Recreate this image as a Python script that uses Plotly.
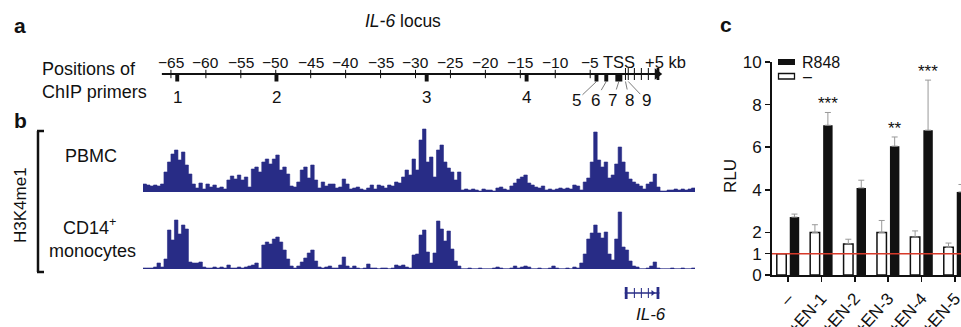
import plotly.graph_objects as go

W, H = 961, 327
FONT = "Liberation Sans, Arial, Helvetica, sans-serif"
NAVY = "#282c86"


def px(x):
    return x / W


def py(y):
    return 1 - y / H


# ---------------- panel a data (kb relative to IL-6 TSS) ----------------
ruler_ticks_kb = [-65, -60, -55, -50, -45, -40, -35, -30, -25, -20, -15, -10, -5]
ruler_tick_labels = ["\u221265", "\u221260", "\u221255", "\u221250", "\u221245", "\u221240",
                     "\u221235", "\u221230", "\u221225", "\u221220", "\u221215", "\u221210", "\u22125"]
ruler_start_kb = -66.3
ruler_end_kb = 4.6
primer_ids = ["1", "2", "3", "4", "5", "6", "7", "8", "9"]
primer_kb = [-64.1, -49.9, -28.4, -14.1, -4.1, -2.7, -0.9, 0.05, 0.45]
il6_exons_kb = [(-0.05, 0.35), (1.25, 1.4), (2.25, 2.4), (3.25, 3.4), (4.5, 4.9)]

# ---------------- panel b data: H3K4me1 signal, 0.5-kb bins from -69 kb ----------------
track_start_kb = -69.0
track_bin_kb = 0.5
pbmc_signal = [8, 7, 6, 7, 6, 8, 20, 30, 38, 42,
               32, 40, 27, 18, 8, 4, 9, 3, 8, 5,
               7, 4, 5, 3, 12, 16, 13, 17, 12, 15,
               5, 23, 25, 20, 30, 33, 28, 33, 37, 22,
               25, 18, 6, 5, 10, 22, 25, 14, 27, 12,
               4, 10, 6, 8, 8, 4, 5, 13, 8, 3,
               4, 5, 3, 2, 4, 7, 3, 7, 6, 4,
               7, 6, 10, 9, 15, 22, 17, 33, 22, 52,
               63, 30, 35, 15, 42, 47, 30, 24, 20, 12,
               20, 2, 3, 2, 3, 2, 1, 3, 2, 2,
               1, 4, 5, 3, 2, 6, 9, 13, 15, 17,
               9, 7, 5, 4, 6, 2, 3, 2, 3, 4,
               3, 4, 3, 7, 6, 2, 10, 14, 30, 60,
               32, 25, 30, 14, 17, 28, 45, 30, 20, 13,
               10, 8, 6, 3, 8, 10, 18, 5, 1, 1,
               2, 2, 3, 2, 3, 2, 3, 4]
cd14_signal = [1, 1, 1, 2, 6, 2, 10, 39, 29, 49,
               35, 44, 40, 7, 6, 6, 7, 2, 1, 1,
               2, 1, 2, 1, 4, 1, 1, 2, 1, 2,
               3, 4, 6, 1, 24, 27, 25, 30, 32, 27,
               19, 10, 3, 1, 3, 7, 11, 16, 19, 8,
               2, 1, 2, 3, 1, 1, 4, 12, 3, 1,
               3, 1, 0, 1, 5, 1, 1, 0, 1, 1,
               0, 1, 4, 3, 4, 2, 1, 14, 15, 34,
               39, 17, 6, 16, 48, 40, 28, 38, 20, 8,
               3, 0, 0, 1, 0, 0, 1, 0, 0, 0,
               1, 2, 1, 0, 0, 1, 3, 1, 2, 3,
               2, 0, 0, 1, 0, 0, 1, 3, 1, 0,
               0, 1, 0, 2, 1, 6, 15, 30, 36, 44,
               36, 31, 37, 15, 9, 30, 57, 22, 19, 8,
               3, 2, 0, 0, 1, 3, 7, 1, 0, 0,
               0, 1, 0, 0, 1, 0, 0, 1]

# ---------------- panel c data ----------------
categories = ["\u2013", "+EN-1", "+EN-2", "+EN-3", "+EN-4", "+EN-5"]
rlu_ctrl = [1.0, 2.0, 1.46, 2.0, 1.78, 1.3]
rlu_ctrl_err = [0.0, 0.36, 0.22, 0.56, 0.29, 0.2]
rlu_r848 = [2.72, 7.03, 4.09, 6.05, 6.8, 3.9]
rlu_r848_err = [0.14, 0.6, 0.36, 0.43, 2.35, 0.35]
significance = ["", "***", "", "**", "***", ""]
rlu_ticks = [0, 1, 2, 4, 6, 8, 10]
rlu_baseline = 1

fig = go.Figure()
shapes = []
ann = []


def text(x, y, s, size=18, xref="paper", yref="paper", **kw):
    d = dict(x=x, y=y, xref=xref, yref=yref, text=s, showarrow=False,
             xanchor="center", yanchor="middle",
             font=dict(family=FONT, size=size, color="#111"))
    d.update(kw)
    ann.append(d)


# ---- panel a ----
fig.add_trace(go.Scatter(x=[ruler_start_kb, ruler_end_kb], y=[0, 0], mode="lines",
                         line=dict(color="#111", width=2), xaxis="x", yaxis="y", hoverinfo="skip"))
fig.add_trace(go.Scatter(x=ruler_ticks_kb, y=[0] * len(ruler_ticks_kb), mode="markers",
                         marker=dict(symbol="line-ns", size=6, line=dict(color="#111", width=1)),
                         xaxis="x", yaxis="y", hoverinfo="skip"))
fig.add_trace(go.Scatter(x=[ruler_end_kb], y=[0], mode="markers",
                         marker=dict(symbol="triangle-right", size=10, color="#111"),
                         xaxis="x", yaxis="y", hoverinfo="skip"))
for a0, a1 in il6_exons_kb[1:]:
    shapes.append(dict(type="rect", xref="x", yref="y", x0=a0, x1=a1, y0=-6, y1=6,
                       fillcolor="#111", line=dict(width=0)))
for kb, lab in zip(ruler_ticks_kb, ruler_tick_labels):
    text(kb, 12, lab, size=15.5, xref="x", yref="y")
text(0, 12, "TSS", size=16.5, xref="x", yref="y", xshift=-6)
text(5, 12, "+5 kb", size=16.5, xref="x", yref="y", xshift=5)

label_dx = [0, 0, 0, 0, -20, -11, -6, 4, 18]
for i, (kb, pid) in enumerate(zip(primer_kb, primer_ids)):
    if i < 6:
        shapes.append(dict(type="rect", xref="x", yref="y", x0=kb - 0.28, x1=kb + 0.28,
                           y0=0, y1=-7.5, fillcolor="#111", line=dict(width=0)))
    elif i == 6:
        shapes.append(dict(type="rect", xref="x", yref="y", x0=kb - 0.5, x1=kb + 0.5,
                           y0=0, y1=-7.5, fillcolor="#111", line=dict(width=0)))
    else:
        shapes.append(dict(type="line", xref="x", yref="y", x0=kb, x1=kb,
                           y0=6, y1=-6, line=dict(color="#111", width=1)))
    if i < 4:
        text(kb, -23, pid, size=17, xref="x", yref="y")
    else:
        ann.append(dict(x=kb, y=-7.5, xref="x", yref="y", text=pid, showarrow=True,
                        arrowhead=0, arrowwidth=0.7, arrowcolor="#444",
                        ax=label_dx[i], ay=19, font=dict(family=FONT, size=17, color="#111")))

text(px(12), py(25), "<b>a</b>", size=21, xanchor="left")
text(px(403), py(21), "<i>IL-6</i> locus", size=17.5)
text(px(40), py(69), "Positions of", size=18, xanchor="left")
text(px(40), py(92), "ChIP primers", size=18, xanchor="left")

# ---- panel b ----
for sig, yax in [(pbmc_signal, "y2"), (cd14_signal, "y3")]:
    xs = [track_start_kb + track_bin_kb * i for i in range(len(sig) + 1)]
    ys = list(sig) + [sig[-1]]
    fig.add_trace(go.Scatter(x=xs, y=ys, mode="lines", line_shape="hv",
                             line=dict(color=NAVY, width=0.6), fill="tozeroy", fillcolor=NAVY,
                             xaxis="x", yaxis=yax, hoverinfo="skip"))
    shapes.append(dict(type="line", xref="x domain", yref=yax, x0=0, x1=1, y0=0, y1=0,
                       line=dict(color=NAVY, width=1)))

# IL-6 gene model
shapes.append(dict(type="line", xref="x", yref="y4", x0=il6_exons_kb[0][0], x1=il6_exons_kb[-1][1],
                   y0=0, y1=0, line=dict(color=NAVY, width=1.5)))
for k, (a0, a1) in enumerate(il6_exons_kb):
    h = 6 if k in (0, len(il6_exons_kb) - 1) else 5
    shapes.append(dict(type="rect", xref="x", yref="y4", x0=a0, x1=a1, y0=-h, y1=h,
                       fillcolor=NAVY, line=dict(width=0)))
fig.add_trace(go.Scatter(x=[(il6_exons_kb[3][1] + il6_exons_kb[4][0]) / 2], y=[0], mode="markers",
                         marker=dict(symbol="triangle-right", size=5, color=NAVY),
                         xaxis="x", yaxis="y4", hoverinfo="skip"))
text((il6_exons_kb[0][0] + il6_exons_kb[-1][1]) / 2, -21, "<i>IL-6</i>", size=17,
     xref="x", yref="y4", xshift=9)

text(px(12), py(121), "<b>b</b>", size=21, xanchor="left")
text(px(20), py(205), "H3K4me1", size=17, textangle=-90)
text(px(91), py(156), "PBMC", size=18)
text(px(89), py(226), "CD14<sup>+</sup>", size=18)
text(px(92), py(251), "monocytes", size=18)
for seg in [((38, 131), (38, 272)), ((37, 131), (44, 131)), ((37, 272), (44, 272))]:
    (x0, y0), (x1, y1) = seg
    shapes.append(dict(type="line", xref="paper", yref="paper", x0=px(x0), x1=px(x1),
                       y0=py(y0), y1=py(y1), line=dict(color="#111", width=2.5)))

# ---- panel c ----
fig.add_trace(go.Bar(x=categories, y=rlu_ctrl, name="\u2013", xaxis="x5", yaxis="y5",
                     marker=dict(color="white", line=dict(color="#111", width=1.5)),
                     error_y=dict(type="data", array=rlu_ctrl_err, arrayminus=[0] * 6,
                                  symmetric=False, color="#999", thickness=1, width=3)))
fig.add_trace(go.Bar(x=categories, y=rlu_r848, name="R848", xaxis="x5", yaxis="y5",
                     marker=dict(color="#111", line=dict(color="#111", width=0)),
                     error_y=dict(type="data", array=rlu_r848_err, arrayminus=[0] * 6,
                                  symmetric=False, color="#999", thickness=1, width=3)))
shapes.append(dict(type="line", xref="x5 domain", yref="y5", x0=0, x1=1,
                   y0=rlu_baseline, y1=rlu_baseline, line=dict(color="#d63a2a", width=1.5)))
for cat, v, e, s in zip(categories, rlu_r848, rlu_r848_err, significance):
    if s:
        ann.append(dict(x=cat, y=v + e, xref="x5", yref="y5", text=s, showarrow=False,
                        xanchor="center", yanchor="bottom", xshift=6.5, yshift=-3,
                        font=dict(family=FONT, size=17, color="#111")))

# legend
shapes.append(dict(type="rect", xref="paper", yref="paper", x0=px(778), x1=px(795),
                   y0=py(65), y1=py(59), fillcolor="#111", line=dict(width=0)))
shapes.append(dict(type="rect", xref="paper", yref="paper", x0=px(778.5), x1=px(794.5),
                   y0=py(79), y1=py(73.5), fillcolor="white", line=dict(color="#111", width=1.3)))
text(px(800), py(62), "R848", size=16, xanchor="left")
text(px(801), py(76.5), "\u2013", size=16, xanchor="left")

text(px(718), py(24), "<b>c</b>", size=21, xanchor="left")
text(px(731), py(176), "RLU", size=17, textangle=-90)

fig.update_layout(
    width=W, height=H, margin=dict(l=0, r=0, t=0, b=0, pad=0, autoexpand=False),
    paper_bgcolor="white", plot_bgcolor="rgba(0,0,0,0)", showlegend=False,
    barmode="group", bargap=0.224, bargroupgap=0.27,
    font=dict(family=FONT, color="#111"),
    xaxis=dict(domain=[px(143), px(695)], range=[-69, 10], visible=False, anchor="y",
               automargin=False),
    yaxis=dict(domain=[py(110), py(50)], range=[-36, 24], visible=False, anchor="x",
               automargin=False),
    yaxis2=dict(domain=[py(192), py(128)], range=[0, 64], visible=False, anchor="x",
                automargin=False),
    yaxis3=dict(domain=[py(269), py(211)], range=[0, 58], visible=False, anchor="x",
                automargin=False),
    yaxis4=dict(domain=[py(322), py(281)], range=[-29, 12], visible=False, anchor="x",
                automargin=False),
    xaxis5=dict(domain=[px(772), 1], type="category", range=[-0.479, 5.18], anchor="y5",
                showline=True, linecolor="#111", linewidth=2, ticks="outside", ticklen=5,
                tickwidth=1.5, tickcolor="#111", tickangle=-48, showgrid=False,
                automargin=False, tickfont=dict(family=FONT, size=17, color="#111")),
    yaxis5=dict(domain=[py(275), py(62)], range=[0, 10], anchor="x5",
                showline=True, linecolor="#111", linewidth=2, ticks="outside", ticklen=5,
                tickwidth=1.5, tickcolor="#111", tickvals=rlu_ticks, showgrid=False,
                automargin=False, zeroline=False,
                tickfont=dict(family=FONT, size=17, color="#111")),
    shapes=shapes, annotations=ann,
)

fig.write_html("out.html", config={"displayModeBar": False, "staticPlot": True},
               post_script="document.body.style.margin='0';document.body.style.overflow='hidden';")
